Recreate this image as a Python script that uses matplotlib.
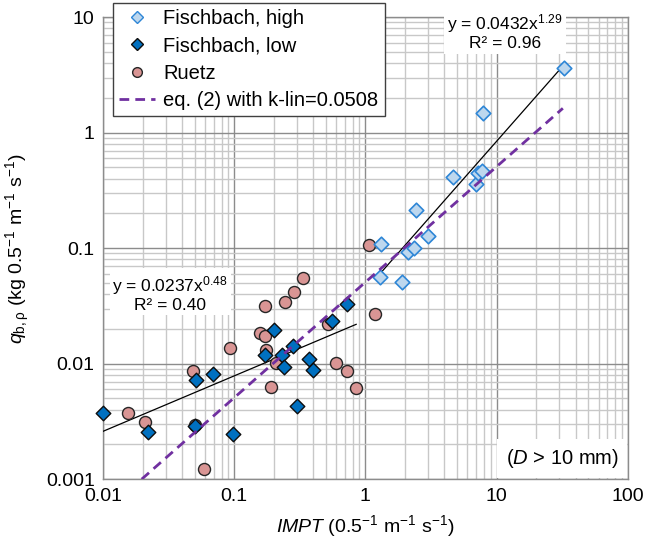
import matplotlib
matplotlib.use("Agg")
import matplotlib.pyplot as plt
import numpy as np
from matplotlib.ticker import LogLocator, FixedLocator, FixedFormatter, NullFormatter
from matplotlib.lines import Line2D

plt.rcParams['font.family'] = ['Liberation Sans', 'DejaVu Sans']
plt.rcParams['mathtext.fontset'] = 'custom'
plt.rcParams['mathtext.rm'] = 'Liberation Sans'
plt.rcParams['mathtext.it'] = 'Liberation Sans:italic'

# Fischbach, high
high_x = [1.31, 1.285, 1.90, 2.10, 2.35, 3.0, 2.44, 4.64, 6.95, 7.23, 7.71, 7.81, 32.8]
high_y = [0.108, 0.0568, 0.051, 0.0935, 0.0994, 0.127, 0.212, 0.412, 0.362, 0.446, 0.465, 1.49, 3.64]

# Fischbach, low
low_x = [0.01, 0.0219, 0.0509, 0.0505, 0.0683, 0.0986, 0.718, 0.202, 0.555, 0.173, 0.28, 0.231, 0.238, 0.369, 0.40, 0.303]
low_y = [0.00375, 0.00255, 0.00724, 0.0029, 0.00817, 0.00248, 0.0331, 0.0197, 0.0236, 0.012, 0.01435, 0.012, 0.00937, 0.01107, 0.0088, 0.00434]

# Ruetz
ruetz_x = [0.0154, 0.021, 0.0487, 0.0925, 0.0505, 0.0586, 1.067, 0.332, 0.283, 0.244, 0.1726, 0.157, 0.171, 0.517, 0.175, 0.209, 0.598, 0.73, 0.849, 0.19, 1.186]
ruetz_y = [0.00375, 0.00311, 0.0087, 0.0138, 0.00297, 0.00123, 0.107, 0.0553, 0.0419, 0.0345, 0.0318, 0.0186, 0.0175, 0.022, 0.01315, 0.0101, 0.0101, 0.0087, 0.00614, 0.0063, 0.0272]

# Fits and model
fit_high = (0.0432, 1.29)
fit_high_range = [1.285, 32.8]
fit_low = (0.0237, 0.48)
fit_low_range = [0.01, 0.85]
k_lin = 0.0508
eq2_range = [0.0197, 32.0]

fig = plt.figure(figsize=(6.65, 5.54), dpi=100)
ax = fig.add_axes([0.155, 0.135, 0.789, 0.834])
ax.set_xscale('log')
ax.set_yscale('log')
ax.set_xlim(0.01, 100)
ax.set_ylim(0.001, 10)

ax.xaxis.set_major_locator(FixedLocator([0.01, 0.1, 1, 10, 100]))
ax.xaxis.set_major_formatter(FixedFormatter(['0.01', '0.1', '1', '10', '100']))
ax.yaxis.set_major_locator(FixedLocator([0.001, 0.01, 0.1, 1, 10]))
ax.yaxis.set_major_formatter(FixedFormatter(['0.001', '0.01', '0.1', '1', '10']))
ax.xaxis.set_minor_locator(LogLocator(base=10, subs=np.arange(2, 10)))
ax.yaxis.set_minor_locator(LogLocator(base=10, subs=np.arange(2, 10)))
ax.xaxis.set_minor_formatter(NullFormatter())
ax.yaxis.set_minor_formatter(NullFormatter())
ax.tick_params(which='both', length=0, labelsize=14, pad=6, colors='#000000')

ax.grid(True, which='major', color='#8c8c8c', lw=1.0, zorder=0)
ax.grid(True, which='minor', color='#c8c8c8', lw=1.0, zorder=0)
ax.set_axisbelow(True)
for s in ax.spines.values():
    s.set_color('#8c8c8c')
    s.set_linewidth(1.0)

# fit lines
xh = np.array(fit_high_range)
ax.plot(xh, fit_high[0] * xh ** fit_high[1], color='black', lw=0.9, zorder=3)
xl = np.array(fit_low_range)
ax.plot(xl, fit_low[0] * xl ** fit_low[1], color='black', lw=0.9, zorder=3)

ax.scatter(ruetz_x, ruetz_y, marker='o', s=75, facecolor='#d99594', edgecolor='#262626', lw=1.0, zorder=4)
ax.scatter(low_x, low_y, marker='D', s=55, facecolor='#0070c0', edgecolor='#0d0d0d', lw=1.0, zorder=5, clip_on=False)
ax.scatter(high_x, high_y, marker='D', s=55, facecolor='#bdd7ee', edgecolor='#2e86d6', lw=1.2, zorder=5)

xe = np.array(eq2_range)
ax.plot(xe, k_lin * xe, color='#7030a0', lw=2.0, ls=(0, (3.5, 2.2)), zorder=6)

# legend
handles = [
    Line2D([], [], marker='D', ls='none', markersize=6, markerfacecolor='#bdd7ee', markeredgecolor='#2e86d6'),
    Line2D([], [], marker='D', ls='none', markersize=6, markerfacecolor='#0070c0', markeredgecolor='#0d0d0d'),
    Line2D([], [], marker='o', ls='none', markersize=7, markerfacecolor='#d99594', markeredgecolor='#262626'),
    Line2D([], [], color='#7030a0', lw=2.0, ls=(0, (3.5, 2.2))),
]
labels = ['Fischbach, high', 'Fischbach, low', 'Ruetz', 'eq. (2) with k-lin=0.0508']
leg = ax.legend(handles, labels, loc='upper left', bbox_to_anchor=(0.019, 1.031), fontsize=14.5,
                frameon=True, fancybox=False, edgecolor='#404040', framealpha=1,
                handlelength=1.8, handletextpad=0.4, borderpad=0.3, labelspacing=0.42,
                borderaxespad=0)
leg.get_frame().set_linewidth(1.0)
leg.set_zorder(10)

box = dict(facecolor='white', edgecolor='none', pad=2)
ax.text(0.766, 1.012, 'y = 0.0432x$^{1.29}$\nR² = 0.96', transform=ax.transAxes, ha='center', va='top',
        fontsize=12.5, linespacing=1.1, bbox=box, zorder=9)
ax.text(0.128, 0.445, 'y = 0.0237x$^{0.48}$\nR² = 0.40', transform=ax.transAxes, ha='center', va='top',
        fontsize=12.5, linespacing=1.1, bbox=box, zorder=9)
ax.text(0.875, 0.045, '($D$ > 10 mm)', transform=ax.transAxes, ha='center', va='center',
        fontsize=14.5, bbox=dict(facecolor='white', edgecolor='none', pad=6), zorder=9)

ax.set_xlabel('$IMPT$ (0.5$^{-1}$ m$^{-1}$ s$^{-1}$)', fontsize=14, labelpad=6)
ax.set_ylabel('$q_{\\mathrm{b,ρ}}$ (kg 0.5$^{-1}$ m$^{-1}$ s$^{-1}$)', fontsize=14, labelpad=10)

fig.savefig('out.png', dpi=100)
